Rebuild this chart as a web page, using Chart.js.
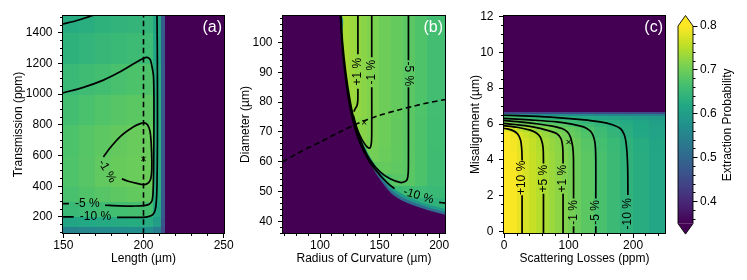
<!DOCTYPE html>
<html>
<head>
<meta charset="utf-8">
<script src="https://cdn.jsdelivr.net/npm/chart.js@4.4.1/dist/chart.umd.min.js"></script>
<style>
  html, body { margin: 0; padding: 0; background: #fff; }
  #wrap { position: relative; width: 747px; height: 280px; overflow: hidden; }
  canvas { position: absolute; top: 0; }
</style>
</head>
<body>
<div id="wrap">
  <canvas id="cA" width="240" height="280" style="left:0px;width:240px;height:280px"></canvas>
  <canvas id="cB" width="228" height="280" style="left:232px;width:228px;height:280px"></canvas>
  <canvas id="cC" width="215" height="280" style="left:460px;width:215px;height:280px"></canvas>
  <canvas id="cCB" width="72" height="280" style="left:675px;width:72px;height:280px"></canvas>
</div>
<script>
// colour scale
const CB_MIN = 0.35;
const CB_MAX = 0.8;
const CB_TICKS = [0.4, 0.5, 0.6, 0.7, 0.8];

// (a) Length vs Transmission
const A_XTICKS = [150, 200, 250];
const A_YTICKS = [200, 400, 600, 800, 1000, 1200, 1400];
const A_X_EDGES = [149.5, 160, 170, 180, 190, 200, 206, 211, 214, 250.5];
const A_Y_EDGES = [92, 140, 200, 300, 400, 600, 800, 1000, 1200, 1400, 1512];
const A_VALUES = [ // rows bottom -> top
  [0.550, 0.555, 0.560, 0.565, 0.570, 0.570, 0.540, 0.46, 0.3],
  [0.615, 0.620, 0.622, 0.624, 0.626, 0.625, 0.600, 0.47, 0.3],
  [0.652, 0.656, 0.660, 0.663, 0.666, 0.665, 0.620, 0.48, 0.3],
  [0.668, 0.675, 0.681, 0.686, 0.690, 0.691, 0.628, 0.48, 0.3],
  [0.674, 0.681, 0.689, 0.694, 0.697, 0.698, 0.630, 0.48, 0.3],
  [0.672, 0.679, 0.686, 0.691, 0.695, 0.696, 0.630, 0.48, 0.3],
  [0.664, 0.670, 0.676, 0.681, 0.684, 0.685, 0.628, 0.48, 0.3],
  [0.652, 0.658, 0.664, 0.668, 0.672, 0.673, 0.625, 0.48, 0.3],
  [0.637, 0.643, 0.648, 0.652, 0.656, 0.657, 0.620, 0.48, 0.3],
  [0.627, 0.632, 0.637, 0.641, 0.644, 0.645, 0.615, 0.48, 0.3]
];
const A_CONTOURS = [
  // -10 %
  [[149.5, 200], [156.5, 200]],
  [[183.5, 197], [193, 196.5], [199, 197.5], [203, 202], [205.8, 215], [207.3, 245], [208, 300], [208.4, 400], [208.7, 700], [208.7, 1000], [208.6, 1300], [208.4, 1512]],
  [[149.5, 1456], [158, 1478], [166.5, 1506], [168.5, 1512]],
  // -5 %
  [[149.5, 287], [153.5, 287]],
  [[176, 276], [185, 272], [195, 271], [200, 273.5], [203.5, 283], [205.3, 305], [205.9, 350], [206.3, 500], [206.5, 800], [206.5, 1000], [206.2, 1120], [205.3, 1180], [204.2, 1224], [202.3, 1239], [200, 1234], [193.8, 1197], [185.4, 1145], [175, 1091], [162.5, 1044], [149.5, 1007]],
  // -1 %
  [[175, 591], [180, 660], [186, 728], [193.8, 787], [198, 808], [200.5, 813], [202.5, 800], [204, 760], [204.8, 679], [205.2, 560], [205, 480], [204.2, 439], [202.5, 418], [200, 411], [195.9, 418], [190.5, 432], [186.5, 448]]
];
const A_LABELS = [
  { text: '-5 %', x: 165, y: 287, rot: 0 },
  { text: '-10 %', x: 170, y: 200, rot: 0 },
  { text: '-1 %', x: 177.2, y: 498, rot: 60 }
];
const A_DASH = [[200, 92], [200, 1512]];
const A_MARK = [[200, 578]];

// (b) Radius of Curvature vs Diameter
const B_XTICKS = [100, 150, 200];
const B_YTICKS = [40, 50, 60, 70, 80, 90, 100];
const B_X_EDGES = [68.5, 115, 120, 125, 130, 135, 140, 145, 150, 160, 170, 180, 190, 205.3];
const B_Y_EDGES = [36, 44, 48, 52, 56, 60, 65, 75, 109];
const B_VALUES = [ // rows bottom -> top
  [0.3, 0.3, 0.3, 0.3, 0.3, 0.3, 0.3, 0.3, 0.3, 0.3, 0.3, 0.58, 0.6],
  [0.3, 0.3, 0.3, 0.3, 0.3, 0.3, 0.3, 0.3, 0.3, 0.6, 0.625, 0.635, 0.64],
  [0.3, 0.3, 0.3, 0.3, 0.3, 0.3, 0.3, 0.3, 0.62, 0.655, 0.66, 0.657, 0.652],
  [0.3, 0.3, 0.3, 0.3, 0.3, 0.3, 0.3, 0.64, 0.67, 0.682, 0.682, 0.672, 0.658],
  [0.3, 0.3, 0.3, 0.3, 0.3, 0.3, 0.66, 0.69, 0.692, 0.688, 0.683, 0.672, 0.66],
  [0.3, 0.3, 0.3, 0.3, 0.3, 0.68, 0.705, 0.703, 0.697, 0.69, 0.683, 0.673, 0.66],
  [0.3, 0.3, 0.3, 0.7, 0.72, 0.718, 0.712, 0.706, 0.699, 0.691, 0.683, 0.673, 0.661],
  [0.3, 0.745, 0.74, 0.733, 0.726, 0.72, 0.714, 0.709, 0.70, 0.692, 0.683, 0.674, 0.662]
];
// outline of the region below the colour range, and the two bands along it
const B_EDGE = [[68.5, 109], [116.2, 109], [117.5, 102], [119, 95], [120.5, 89.5], [122, 85], [125, 79], [128, 73.8], [132, 68.5], [137, 63.5], [143, 58.8], [150, 54.3], [160, 49.3], [170, 46.8], [180, 45.2], [190, 43.9], [205.3, 42.3]];
const B_BAND_INNER = [[68.5, 109], [116.8, 109], [118.1, 102], [119.6, 95], [121.1, 89.5], [122.6, 85], [125.6, 79], [128.7, 73.8], [132.7, 68.7], [137.7, 63.9], [143.7, 59.4], [150.7, 55.1], [160.7, 50.2], [170.7, 47.7], [180.7, 46.1], [190.7, 44.7], [205.3, 43.2]];
const B_BAND_OUTER = [[68.5, 109], [117.4, 109], [118.7, 102], [120.2, 95], [121.7, 89.5], [123.2, 85], [126.2, 79], [129.4, 73.8], [133.4, 69], [138.4, 64.3], [144.4, 60.1], [151.4, 56], [161.4, 51.2], [171.4, 48.7], [181.4, 47], [191.4, 45.6], [205.3, 44.2]];
const B_CONTOURS = [
  // +1 %
  [[131.8, 109], [131.8, 96]],
  [[131.8, 84.5], [131.7, 80.5], [131, 78.8], [129.8, 78], [128.3, 76.8]],
  // -1 %
  [[143.4, 109], [143.4, 95]],
  [[143.4, 85], [143.4, 69.5], [143, 66], [141.8, 64.6], [139.5, 65], [136.5, 66.6], [133.6, 68.7], [130.5, 71.8], [128, 75.5]],
  // -5 %
  [[174.2, 109], [174.2, 94]],
  [[174.2, 85], [174.2, 60], [174, 56.2], [173.2, 54.2], [171.4, 53.4], [167.2, 53.1], [158.8, 54.3], [150.4, 56.6], [142, 60.6], [135, 66.2], [129.4, 72.6], [125.2, 80.5], [121.6, 90], [118.9, 100], [117.6, 109]],
  // -10 %
  [[117, 109], [118.3, 100], [120.2, 92], [123.5, 82], [127.8, 73.5], [133.3, 66.5], [141.5, 60], [151.5, 55], [157, 52.8], [162.5, 51]],
  [[200, 46.4], [205.3, 46.2]]
];
const B_LABELS = [
  { text: '+1 %', x: 131.8, y: 90.2, rot: -90 },
  { text: '-1 %', x: 143.4, y: 90, rot: -90 },
  { text: '-5 %', x: 174.2, y: 89.5, rot: 90 },
  { text: '-10 %', x: 182.5, y: 48.6, rot: 17 }
];
const B_DASH = [[68.5, 60], [80, 62.6], [90, 64.7], [100, 66.6], [115, 69.7], [129, 72.4], [140, 74.2], [150, 75.6], [165, 77.3], [180, 78.8], [190, 79.7], [205.3, 80.9]];
const B_MARK = [[137, 73.2]];

// (c) Scattering Losses vs Misalignment
const C_XTICKS = [0, 100, 200];
const C_YTICKS = [0, 2, 4, 6, 8, 10, 12];
const C_X_EDGES = [-1, 10, 20, 30, 40, 50, 60, 70, 80, 90, 100, 110, 120, 140, 160, 180, 200, 225, 250.3];
const C_Y_EDGES = [-0.1, 4.5, 5.25, 5.6, 5.85, 6.05, 6.25, 6.45, 6.6, 6.72, 12.05];
const C_VALUES = [ // rows bottom -> top
  [0.81, 0.797, 0.785, 0.773, 0.762, 0.751, 0.741, 0.732, 0.723, 0.714, 0.705, 0.697, 0.684, 0.668, 0.654, 0.640, 0.628, 0.617],
  [0.807, 0.794, 0.782, 0.770, 0.759, 0.748, 0.738, 0.729, 0.720, 0.711, 0.702, 0.694, 0.681, 0.665, 0.651, 0.637, 0.626, 0.615],
  [0.80, 0.787, 0.775, 0.763, 0.752, 0.741, 0.731, 0.722, 0.713, 0.704, 0.695, 0.687, 0.674, 0.658, 0.644, 0.631, 0.620, 0.609],
  [0.78, 0.767, 0.756, 0.745, 0.735, 0.725, 0.717, 0.709, 0.702, 0.696, 0.689, 0.682, 0.671, 0.656, 0.643, 0.631, 0.619, 0.608],
  [0.73, 0.718, 0.712, 0.709, 0.706, 0.704, 0.701, 0.696, 0.688, 0.681, 0.675, 0.668, 0.658, 0.646, 0.637, 0.628, 0.618, 0.607],
  [0.706, 0.703, 0.697, 0.692, 0.687, 0.682, 0.677, 0.672, 0.667, 0.662, 0.657, 0.652, 0.645, 0.637, 0.630, 0.623, 0.614, 0.604],
  [0.67, 0.665, 0.66, 0.656, 0.652, 0.648, 0.643, 0.639, 0.635, 0.632, 0.629, 0.626, 0.622, 0.617, 0.612, 0.607, 0.600, 0.595],
  [0.58, 0.578, 0.576, 0.574, 0.572, 0.57, 0.568, 0.566, 0.564, 0.562, 0.56, 0.558, 0.556, 0.553, 0.55, 0.547, 0.544, 0.54],
  [0.45, 0.45, 0.45, 0.45, 0.45, 0.45, 0.45, 0.45, 0.45, 0.45, 0.45, 0.45, 0.45, 0.45, 0.45, 0.45, 0.45, 0.45],
  [0.3, 0.3, 0.3, 0.3, 0.3, 0.3, 0.3, 0.3, 0.3, 0.3, 0.3, 0.3, 0.3, 0.3, 0.3, 0.3, 0.3, 0.3]
];
const C_CONTOURS = [
  // +10 %
  [[-1, 5.76], [5, 5.73], [14.5, 5.62], [21, 5.44], [25.6, 5.1], [27.3, 4.6], [27.8, 4.1], [27.8, 3.97]],
  [[27.8, 2.03], [27.8, -0.2]],
  // +5 %
  [[-1, 5.91], [20, 5.82], [40.4, 5.66], [50, 5.5], [56, 5.28], [59.5, 4.9], [60.7, 4.5], [61, 3.8]],
  [[61, 2.12], [61, -0.2]],
  // +1 %
  [[-1, 6.04], [20, 5.96], [40, 5.87], [56, 5.76], [70, 5.62], [81.9, 5.46], [88, 5.2], [90.2, 4.9], [91.2, 4.5], [91.4, 3.8]],
  [[91.4, 2.12], [91.4, -0.2]],
  // -1 %
  [[-1, 6.2], [20, 6.14], [56, 5.99], [75, 5.88], [89.7, 5.75], [98, 5.56], [102.6, 5.3], [105.6, 4.9], [107, 4.5], [107.6, 4.0], [107.7, 1.85]],
  [[107.7, 0.3], [107.7, -0.2]],
  // -5 %
  [[-1, 6.32], [40, 6.23], [82, 6.12], [105, 6.0], [123.2, 5.84], [132, 5.66], [136.8, 5.45], [140.2, 5.1], [141.6, 4.7], [142.2, 4.0], [142.2, 1.85]],
  [[142.2, 0.3], [142.2, -0.2]],
  // -10 %
  [[-1, 6.49], [40, 6.44], [81.9, 6.36], [120, 6.25], [149.2, 6.12], [168, 5.96], [180.3, 5.75], [185.8, 5.45], [188.5, 5.1], [190.6, 4.4], [191.7, 3.5], [192, 2.05]]
];
const C_LABELS = [
  { text: '+10 %', x: 27.8, y: 3.0, rot: -90 },
  { text: '+5 %', x: 61, y: 2.96, rot: -90 },
  { text: '+1 %', x: 91.4, y: 2.96, rot: -90 },
  { text: '-1 %', x: 107.7, y: 1.08, rot: -90 },
  { text: '-5 %', x: 142.2, y: 1.08, rot: -90 },
  { text: '-10 %', x: 192, y: 1.0, rot: -90 }
];
const C_MARK = [[100, 5.0]];

const FONT = "'Liberation Sans', Arial, Helvetica, sans-serif";
const VIRIDIS = [[68, 1, 84], [72, 36, 117], [65, 68, 135], [53, 95, 141], [42, 120, 142], [33, 145, 140],
  [34, 168, 132], [68, 191, 112], [122, 209, 81], [189, 223, 38], [253, 231, 37]];

Chart.defaults.font.family = FONT;
Chart.defaults.font.size = 12;
Chart.defaults.color = '#000';

function viridis(v) {
  let t = (v - CB_MIN) / (CB_MAX - CB_MIN);
  t = Math.max(0, Math.min(1, t));
  const p = t * (VIRIDIS.length - 1);
  const i = Math.min(Math.floor(p), VIRIDIS.length - 2);
  const f = p - i;
  const c = VIRIDIS[i].map((a, k) => Math.round(a + (VIRIDIS[i + 1][k] - a) * f));
  return `rgb(${c[0]},${c[1]},${c[2]})`;
}

function steps(start, stop, step) {
  const out = [];
  for (let i = 0; start + i * step <= stop + 1e-9; i++) out.push(start + i * step);
  return out;
}

const snap = (v) => Math.round(v - 0.5) + 0.5;

function lineDs(pts, extra) {
  return Object.assign({
    data: pts.map(([x, y]) => ({ x, y })),
    borderColor: '#000',
    borderWidth: 1.7,
    pointRadius: 0,
    tension: 0.3,
    fill: false,
    order: 0,
  }, extra || {});
}

function heatPlugin(xEdges, yEdges, values) {
  return {
    id: 'heat',
    beforeDatasetsDraw(chart) {
      const { ctx, chartArea: a, scales: { x, y } } = chart;
      ctx.save();
      ctx.beginPath();
      ctx.rect(a.left, a.top, a.right - a.left, a.bottom - a.top);
      ctx.clip();
      values.forEach((row, j) => {
        const y0 = y.getPixelForValue(yEdges[j]);
        const y1 = y.getPixelForValue(yEdges[j + 1]);
        row.forEach((v, i) => {
          const x0 = x.getPixelForValue(xEdges[i]);
          const x1 = x.getPixelForValue(xEdges[i + 1]);
          ctx.fillStyle = viridis(v);
          ctx.fillRect(Math.floor(x0), Math.floor(y1), Math.ceil(x1) - Math.floor(x0), Math.ceil(y0) - Math.floor(y1));
        });
      });
      ctx.restore();
    }
  };
}

function decorPlugin(p) {
  return {
    id: 'decor',
    afterDatasetsDraw(chart) {
      const { ctx, scales: { x, y } } = chart;
      ctx.save();
      ctx.fillStyle = '#000';
      ctx.font = `12px ${FONT}`;
      ctx.textAlign = 'center';
      ctx.textBaseline = 'middle';
      p.labels.forEach((l) => {
        ctx.save();
        ctx.translate(x.getPixelForValue(l.x), y.getPixelForValue(l.y));
        ctx.rotate(l.rot * Math.PI / 180);
        ctx.fillText(l.text, 0, 0);
        ctx.restore();
      });
      ctx.restore();
    },
    afterDraw(chart) {
      const { ctx, chartArea: a, scales: { x, y } } = chart;
      ctx.save();
      ctx.strokeStyle = '#000';
      ctx.lineWidth = 1;
      ctx.strokeRect(a.left, a.top, a.right - a.left, a.bottom - a.top);
      ctx.beginPath();
      const xTick = (v, len) => {
        if (v < x.min || v > x.max) return;
        const px = snap(x.getPixelForValue(v));
        ctx.moveTo(px, a.bottom);
        ctx.lineTo(px, a.bottom + len);
      };
      const yTick = (v, len) => {
        if (v < y.min || v > y.max) return;
        const py = snap(y.getPixelForValue(v));
        ctx.moveTo(a.left, py);
        ctx.lineTo(a.left - len, py);
      };
      p.xMinor.forEach((v) => xTick(v, 2.5));
      p.yMinor.forEach((v) => yTick(v, 2.5));
      p.xTicks.forEach((v) => xTick(v, 4.5));
      p.yTicks.forEach((v) => yTick(v, 4.5));
      ctx.stroke();
      ctx.fillStyle = '#fff';
      ctx.font = `16px ${FONT}`;
      ctx.textAlign = 'right';
      ctx.textBaseline = 'middle';
      ctx.fillText(p.letter, a.right - 2.5, a.top + 12.5);
      ctx.restore();
    }
  };
}

function makePanel(id, p) {
  const datasets = [];
  (p.fills || []).forEach((f) => datasets.push(lineDs(f.pts, {
    fill: 'start', backgroundColor: viridis(f.value), borderColor: 'rgba(0,0,0,0)', borderWidth: 0, order: f.order,
  })));
  p.contours.forEach((seg) => datasets.push(lineDs(seg)));
  if (p.dash) datasets.push(lineDs(p.dash, { borderDash: [5.5, 3.5], borderWidth: 1.6 }));
  datasets.push(lineDs(p.mark, { showLine: false, pointRadius: 3, pointStyle: 'crossRot', borderWidth: 1, order: -1 }));

  new Chart(document.getElementById(id), {
    type: 'line',
    data: { datasets },
    options: {
      responsive: false,
      animation: false,
      events: [],
      devicePixelRatio: 1,
      layout: { padding: { left: 0, top: 15.5, right: p.padRight, bottom: 0 } },
      plugins: { legend: { display: false }, tooltip: { enabled: false } },
      scales: {
        x: {
          type: 'linear', min: p.xRange[0], max: p.xRange[1],
          afterBuildTicks: (s) => { s.ticks = p.xTicks.map((v) => ({ value: v })); },
          afterFit: (s) => { s.height = 46.5; s.paddingLeft = 0; s.paddingRight = 0; },
          grid: { display: false, drawTicks: false },
          border: { display: false },
          ticks: { padding: 5, maxRotation: 0, autoSkip: false, color: '#000', callback: (v) => String(v) },
          title: { display: true, text: p.xTitle, color: '#000', font: { size: 12 }, padding: { top: 0, bottom: 14.3 } },
        },
        y: {
          type: 'linear', min: p.yRange[0], max: p.yRange[1],
          afterBuildTicks: (s) => { s.ticks = p.yTicks.map((v) => ({ value: v })); },
          afterFit: (s) => { s.width = p.yWidth; s.paddingTop = 0; s.paddingBottom = 0; },
          grid: { display: false, drawTicks: false },
          border: { display: false },
          ticks: { padding: 10, autoSkip: false, color: '#000', callback: (v) => String(v) },
          title: { display: true, text: p.yTitle, color: '#000', font: { size: 12 }, padding: { top: p.yTitlePad, bottom: 0 } },
        },
      },
    },
    plugins: [heatPlugin(p.xEdges, p.yEdges, p.values), decorPlugin(p)],
  });
}

makePanel('cA', {
  xRange: [149.5, 250.5], yRange: [92, 1512],
  xTicks: A_XTICKS, yTicks: A_YTICKS,
  xMinor: steps(150, 250, 10), yMinor: steps(100, 1500, 50),
  xEdges: A_X_EDGES, yEdges: A_Y_EDGES, values: A_VALUES,
  contours: A_CONTOURS, labels: A_LABELS, dash: A_DASH, mark: A_MARK,
  xTitle: 'Length (µm)', yTitle: 'Transmission (ppm)', letter: '(a)',
  yWidth: 62.5, yTitlePad: 11.8, padRight: 15.5,
});

makePanel('cB', {
  xRange: [68.5, 205.3], yRange: [36, 109],
  xTicks: B_XTICKS, yTicks: B_YTICKS,
  xMinor: steps(70, 200, 10), yMinor: steps(36, 108, 2),
  xEdges: B_X_EDGES, yEdges: B_Y_EDGES, values: B_VALUES,
  fills: [
    { pts: B_BAND_OUTER, value: 0.59, order: 30 },
    { pts: B_BAND_INNER, value: 0.51, order: 20 },
    { pts: B_EDGE, value: 0.3, order: 10 },
  ],
  contours: B_CONTOURS, labels: B_LABELS, dash: B_DASH, mark: B_MARK,
  xTitle: 'Radius of Curvature (µm)', yTitle: 'Diameter (µm)', letter: '(b)',
  yWidth: 50.5, yTitlePad: 6.6, padRight: 14.5,
});

makePanel('cC', {
  xRange: [-1, 250.3], yRange: [-0.1, 12.05],
  xTicks: C_XTICKS, yTicks: C_YTICKS,
  xMinor: steps(0, 240, 20), yMinor: steps(0, 12, 0.5),
  xEdges: C_X_EDGES, yEdges: C_Y_EDGES, values: C_VALUES,
  contours: C_CONTOURS, labels: C_LABELS, dash: null, mark: C_MARK,
  xTitle: 'Scattering Losses (ppm)', yTitle: 'Misalignment (µm)', letter: '(c)',
  yWidth: 43.5, yTitlePad: 8.8, padRight: 9.5,
});

// colour bar
const colorbarPlugin = {
  id: 'colorbar',
  afterDraw(chart) {
    const { ctx, chartArea: a, scales: { y } } = chart;
    const top = y.getPixelForValue(CB_MAX);
    const bottom = y.getPixelForValue(CB_MIN);
    const ext = 10.5;
    const cx = (a.left + a.right) / 2;
    ctx.save();
    const grad = ctx.createLinearGradient(0, bottom, 0, top);
    VIRIDIS.forEach((c, i) => grad.addColorStop(i / (VIRIDIS.length - 1), `rgb(${c[0]},${c[1]},${c[2]})`));
    ctx.fillStyle = grad;
    ctx.fillRect(a.left, top, a.right - a.left, bottom - top);
    ctx.fillStyle = viridis(CB_MAX);
    ctx.beginPath();
    ctx.moveTo(a.left, top); ctx.lineTo(cx, top - ext); ctx.lineTo(a.right, top); ctx.closePath();
    ctx.fill();
    ctx.fillStyle = viridis(CB_MIN);
    ctx.beginPath();
    ctx.moveTo(a.left, bottom); ctx.lineTo(cx, bottom + ext); ctx.lineTo(a.right, bottom); ctx.closePath();
    ctx.fill();
    ctx.strokeStyle = '#000';
    ctx.lineWidth = 0.9;
    ctx.beginPath();
    ctx.moveTo(a.left, top); ctx.lineTo(cx, top - ext); ctx.lineTo(a.right, top);
    ctx.lineTo(a.right, bottom); ctx.lineTo(cx, bottom + ext); ctx.lineTo(a.left, bottom); ctx.closePath();
    ctx.stroke();
    ctx.lineWidth = 1;
    ctx.beginPath();
    steps(0.36, 0.8, 0.02).forEach((v) => {
      const py = snap(y.getPixelForValue(v));
      ctx.moveTo(a.right, py); ctx.lineTo(a.right + 2.5, py);
    });
    CB_TICKS.forEach((v) => {
      const py = snap(y.getPixelForValue(v));
      ctx.moveTo(a.right, py); ctx.lineTo(a.right + 4.5, py);
    });
    ctx.stroke();
    ctx.fillStyle = '#000';
    ctx.font = `12px ${FONT}`;
    ctx.textAlign = 'center';
    ctx.textBaseline = 'middle';
    ctx.translate(53, (top + bottom) / 2);
    ctx.rotate(-Math.PI / 2);
    ctx.fillText('Extraction Probability', 0, 0);
    ctx.restore();
  }
};

new Chart(document.getElementById('cCB'), {
  type: 'line',
  data: { datasets: [] },
  options: {
    responsive: false,
    animation: false,
    events: [],
    devicePixelRatio: 1,
    layout: { padding: { left: 3, top: 26, right: 0, bottom: 56.4 } },
    plugins: { legend: { display: false }, tooltip: { enabled: false } },
    scales: {
      x: { type: 'linear', display: false, min: 0, max: 1 },
      y: {
        type: 'linear', position: 'right', min: CB_MIN, max: CB_MAX,
        afterBuildTicks: (s) => { s.ticks = CB_TICKS.map((v) => ({ value: v })); },
        afterFit: (s) => { s.width = 54; s.paddingTop = 0; s.paddingBottom = 0; },
        grid: { display: false, drawTicks: false },
        border: { display: false },
        ticks: { padding: 7, color: '#000', callback: (v) => v.toFixed(1) },
      },
    },
  },
  plugins: [colorbarPlugin],
});
</script>
</body>
</html>
